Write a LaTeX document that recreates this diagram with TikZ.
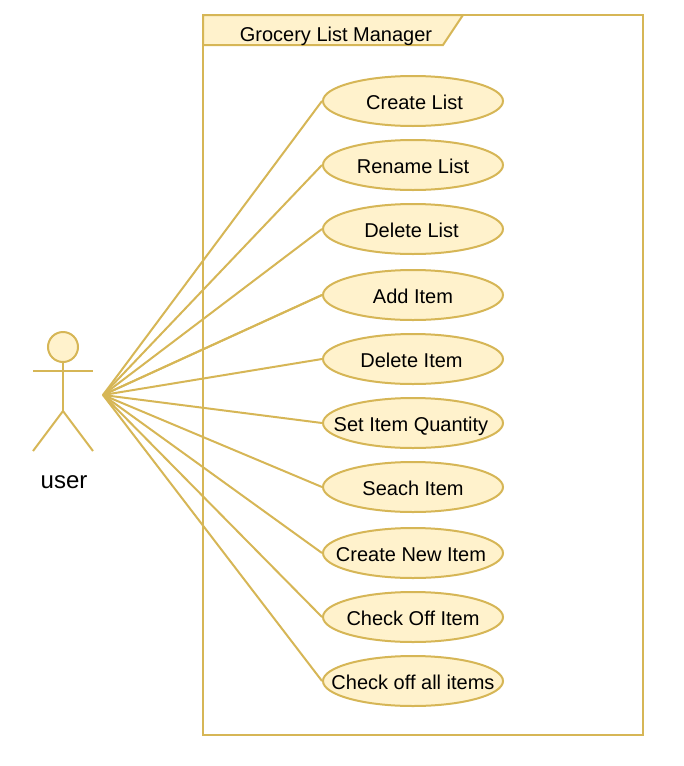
\documentclass[tikz,border=0pt]{standalone}
\usepackage{fontspec}
\setmainfont{Liberation Sans}
\usetikzlibrary{shapes.geometric}
\pgfdeclarelayer{back}
\pgfsetlayers{back,main}
\definecolor{gold}{HTML}{D6B656}
\definecolor{cream}{HTML}{FFF2CC}
\newcommand\tc[2][0pt]{\raisebox{-8pt}[0pt][0pt]{\makebox[0pt]{\hspace*{#1}#2\hspace*{-#1}}}}
\tikzset{
  x=1pt,y=-1pt,
  usecase/.style={ellipse,draw=gold,fill=cream,line width=2pt,minimum width=180pt,minimum height=50pt,inner sep=0pt,font=\fontsize{20}{24}\selectfont,text=black},
  link/.style={draw=gold,line width=2pt},
  shapeline/.style={draw=gold,line width=2pt},
}
\begin{document}
\begin{tikzpicture}
\useasboundingbox (0,0) rectangle (684,766);
% frame
\draw[shapeline] (203,15) rectangle (643,735);
\draw[shapeline,fill=cream] (203,15) -- (463,15) -- (443,45) -- (203,45) -- cycle;
\node[font=\fontsize{20}{24}\selectfont,text=black] (title) at (336,36) {Grocery List Manager};
% actor
\node[circle,draw=gold,fill=cream,line width=2pt,minimum size=30pt,inner sep=0pt] (head) at (63,347) {};
\coordinate (neck) at (63,411);
\coordinate (armL) at (33,371);
\coordinate (armR) at (93,371);
\coordinate (legL) at (33,451);
\coordinate (legR) at (93,451);
\draw[shapeline] (head.south) -- (neck);
\draw[shapeline] (armL) -- (armR);
\draw[shapeline] (legL) -- (neck) -- (legR);
\node[font=\fontsize{24}{28}\selectfont,text=black] (actorlabel) at (64,482) {user};
\coordinate (user) at (103,395);
% use cases
\node[usecase] (u1) at (413,101) {\tc[1.5pt]{Create List}};
\node[usecase] (u2) at (413,165) {\tc{Rename List}};
\node[usecase] (u3) at (413,229) {\tc[-1.5pt]{Delete List}};
\node[usecase] (u4) at (413,295) {\tc{Add Item}};
\node[usecase] (u5) at (413,359) {\tc[-1.5pt]{Delete Item}};
\node[usecase] (u6) at (413,423) {\tc[-2pt]{Set Item Quantity}};
\node[usecase] (u7) at (413,487) {\tc{Seach Item}};
\node[usecase] (u8) at (413,553) {\tc[-2pt]{Create New Item}};
\node[usecase] (u9) at (413,617) {\tc{Check Off Item}};
\node[usecase] (u10) at (413,681) {\tc{Check off all items}};
\begin{pgfonlayer}{back}
\foreach \i in {1,...,10} {\draw[link] (user) -- (u\i.west);}
\draw[link] (user) -- (u4.west);
\end{pgfonlayer}
\end{tikzpicture}
\end{document}
